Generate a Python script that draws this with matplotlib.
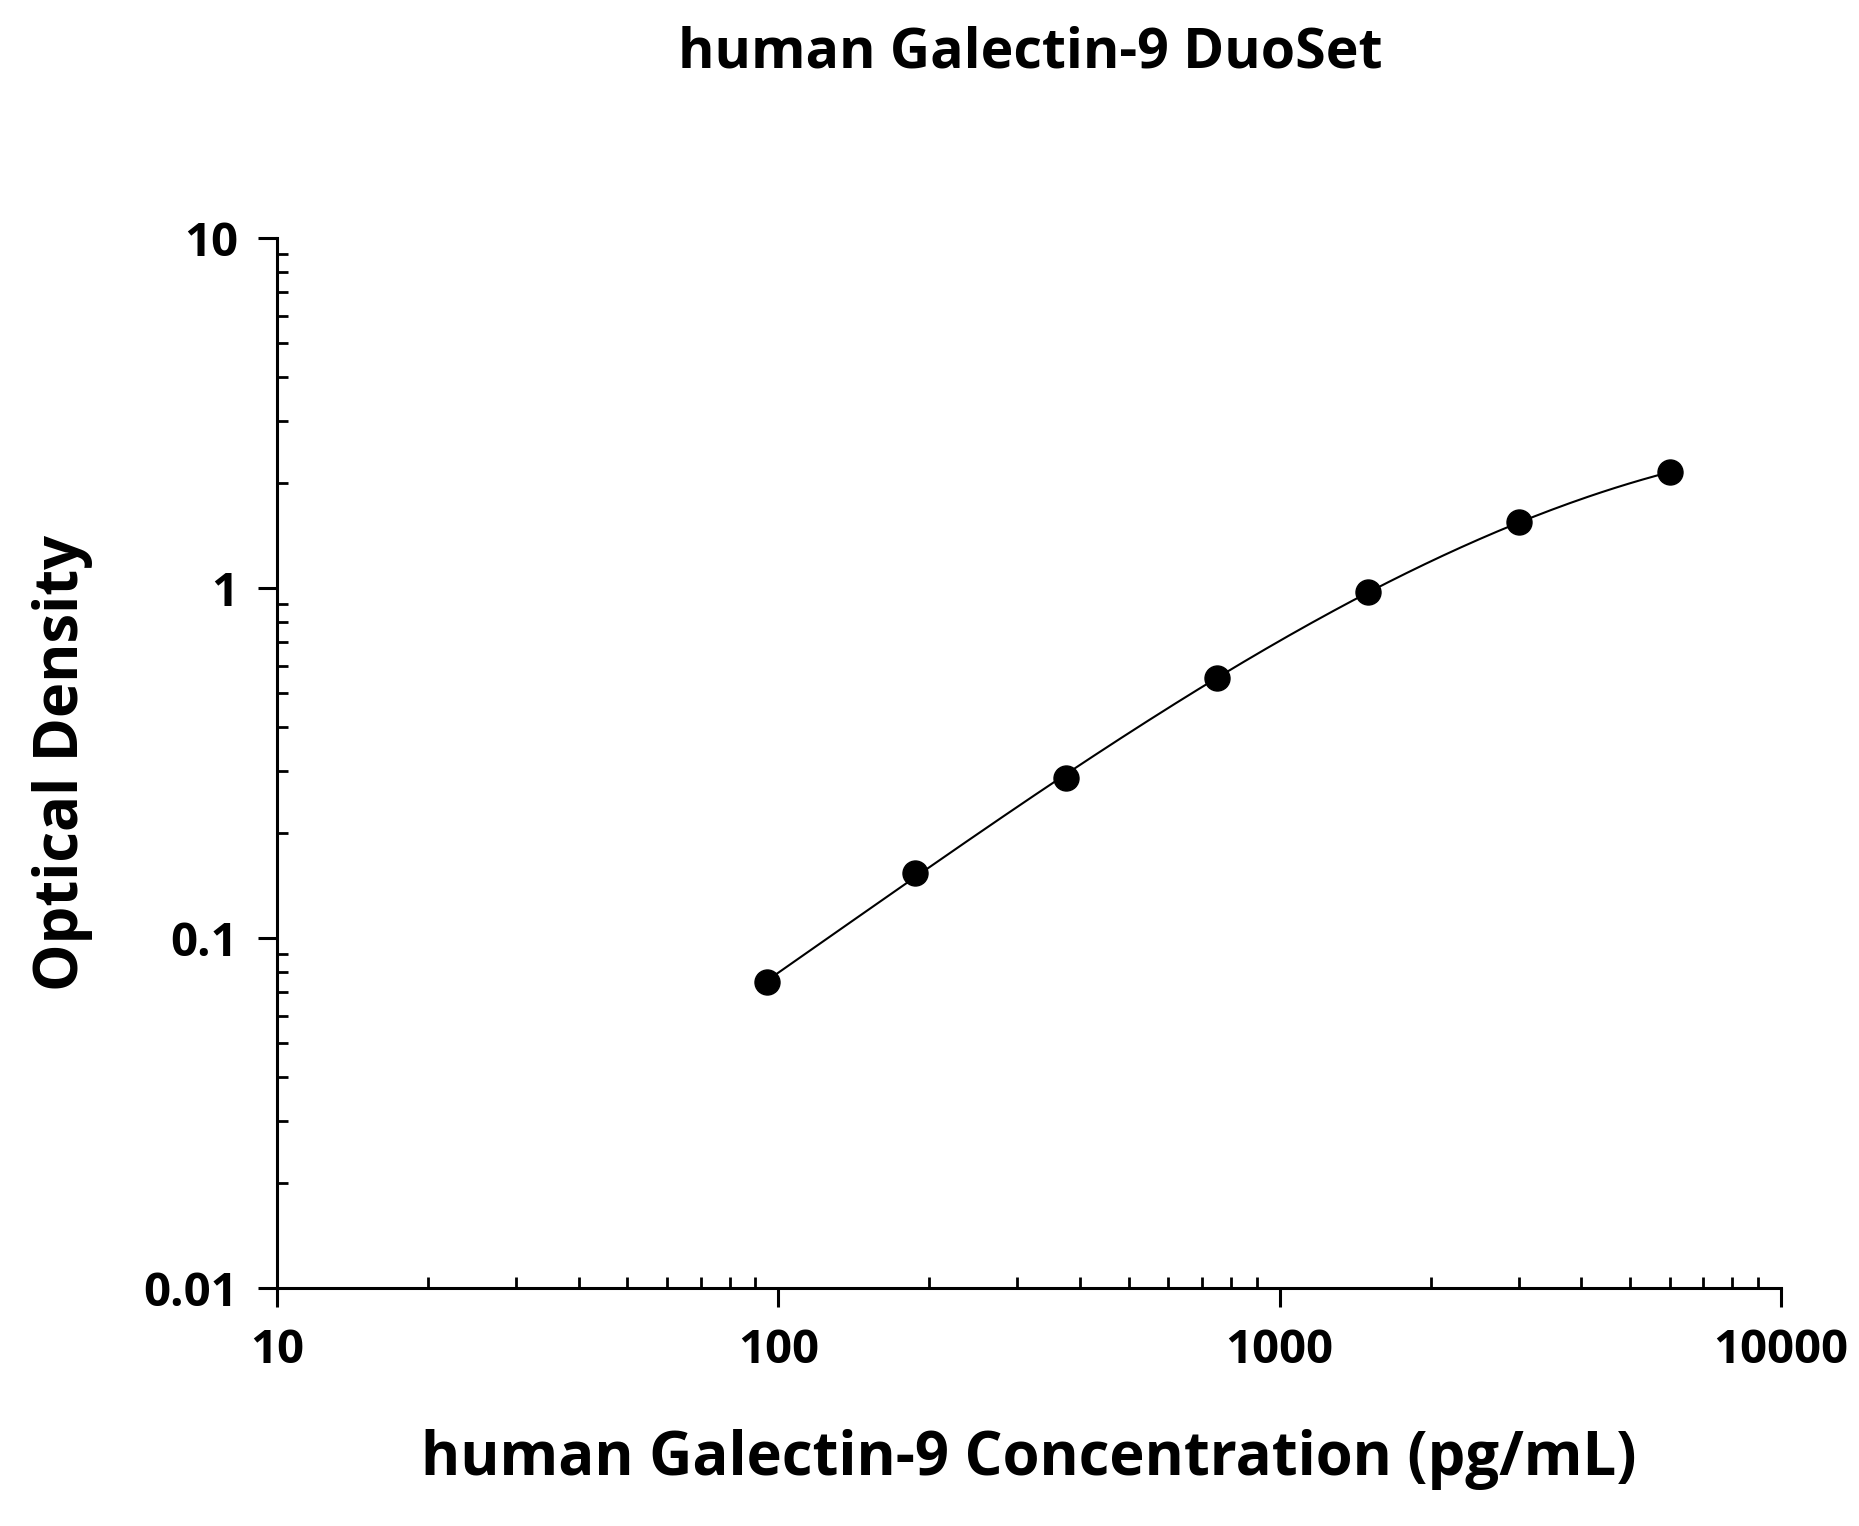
import numpy as np
import matplotlib
matplotlib.use("Agg")
import matplotlib.pyplot as plt
from matplotlib.ticker import LogLocator, NullFormatter

conc = [95, 187.5, 375, 750, 1500, 3000, 6000]
od = [0.075, 0.153, 0.287, 0.555, 0.975, 1.54, 2.14]
xticks = [10, 100, 1000, 10000]
xlabels = ["10", "100", "1000", "10000"]
yticks = [0.01, 0.1, 1, 10]
ylabels = ["0.01", "0.1", "1", "10"]

plt.rcParams['font.family'] = ['Open Sans', 'DejaVu Sans']
fig = plt.figure(figsize=(18.59, 15.26), dpi=100)
ax = fig.add_axes([0.149, 0.156, 0.809, 0.688])
lx, ly = np.log10(conc), np.log10(od)
c = np.polyfit(lx, ly, 3)
xs = np.linspace(lx[0], lx[-1], 200)
ax.plot(10**xs, 10**np.polyval(c, xs), color='black', lw=1.5)
ax.plot(conc, od, 'o', color='black', ms=18)
ax.set_xscale('log'); ax.set_yscale('log')
ax.set_xlim(10, 10000); ax.set_ylim(0.01, 10)
for s in ['top', 'right']:
    ax.spines[s].set_visible(False)
for s in ['left', 'bottom']:
    ax.spines[s].set_linewidth(2.2)
ax.set_xticks(xticks, xlabels); ax.set_yticks(yticks, ylabels)
ax.xaxis.set_minor_locator(LogLocator(subs=np.arange(2, 10)))
ax.yaxis.set_minor_locator(LogLocator(subs=np.arange(2, 10)))
ax.xaxis.set_minor_formatter(NullFormatter()); ax.yaxis.set_minor_formatter(NullFormatter())
ax.tick_params(which='major', direction='out', length=14, width=2.2, labelsize=34, pad=14)
ax.tick_params(which='minor', direction='in', length=8, width=2)
for t in ax.get_xticklabels() + ax.get_yticklabels():
    t.set_fontweight('bold')
ax.set_xlabel('human Galectin-9 Concentration (pg/mL)', fontsize=43, fontweight='bold', labelpad=40)
ax.set_ylabel('Optical Density', fontsize=43, fontweight='bold', labelpad=36)
fig.text(0.554, 0.965, 'human Galectin-9 DuoSet', fontsize=40, fontweight='bold', ha='center', va='center')
fig.savefig('out.png', dpi=100)
